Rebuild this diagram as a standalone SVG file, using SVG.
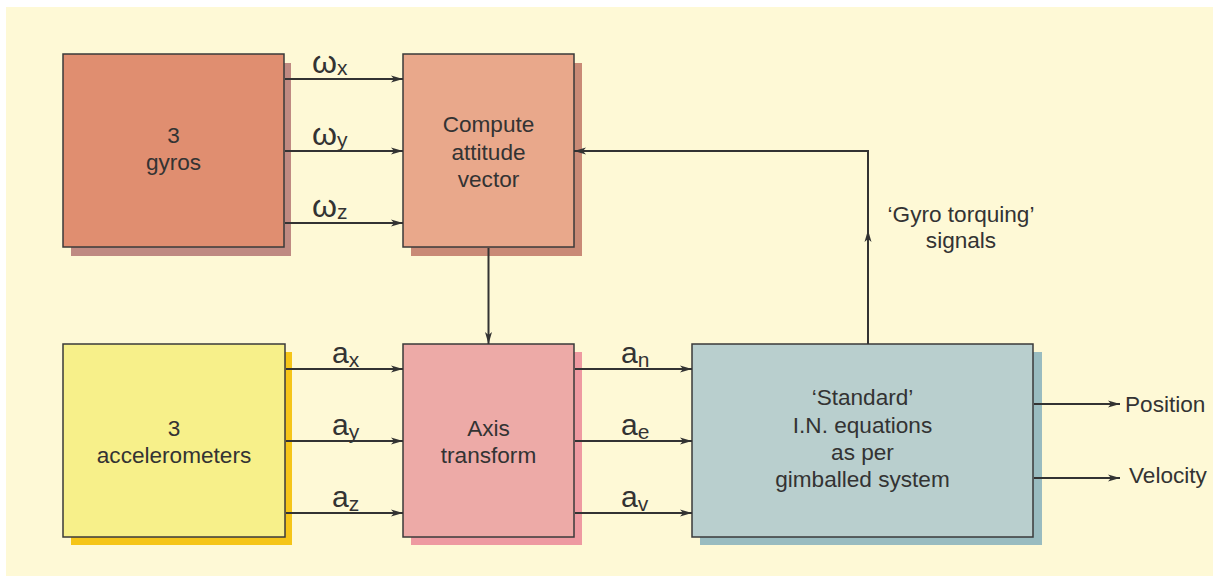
<svg xmlns="http://www.w3.org/2000/svg" width="1213" height="579" viewBox="0 0 1213 579">
<defs>
<style>
.box{stroke:#3a3a3a;stroke-width:1.5}
.t{font-family:"Liberation Sans",Arial,sans-serif;font-size:22.6px;fill:#333;text-anchor:middle}
.lbl{font-family:"Liberation Sans",Arial,sans-serif;font-size:30px;fill:#333}
.w{font-size:32px}
.sub{font-size:21px}
.c{stroke:#333;stroke-width:2;fill:none}
</style>
<marker id="ah" viewBox="0 0 12 8" refX="12" refY="4" markerWidth="12" markerHeight="8" markerUnits="userSpaceOnUse" orient="auto">
<path d="M0,0.5 L12,4 L0,7.5 L3,4 z" fill="#333"/>
</marker>
</defs>
<rect x="6" y="7" width="1207" height="569" fill="#FEF9D6"/>

<g id="gyros">
<rect x="71" y="63" width="220" height="193" fill="#BF8A82"/>
<rect class="box" x="63" y="54" width="221" height="193" fill="#E08E70"/>
<text class="t" x="173.5" y="143">3</text>
<text class="t" x="173.5" y="170">gyros</text>
</g>

<g id="compute">
<rect x="411" y="63" width="171" height="193" fill="#C98A76"/>
<rect class="box" x="403" y="54" width="171" height="193" fill="#E9A88B"/>
<text class="t" x="488.5" y="132">Compute</text>
<text class="t" x="488.5" y="159.5">attitude</text>
<text class="t" x="488.5" y="187">vector</text>
</g>

<g id="accel">
<rect x="71" y="352" width="221" height="193" fill="#F5C518"/>
<rect class="box" x="63" y="344" width="222" height="193" fill="#F7F08A"/>
<text class="t" x="174" y="436">3</text>
<text class="t" x="174" y="463">accelerometers</text>
</g>

<g id="axis">
<rect x="411" y="352" width="171" height="193" fill="#EE9AA1"/>
<rect class="box" x="403" y="344" width="171" height="193" fill="#EDAAA7"/>
<text class="t" x="488.5" y="436">Axis</text>
<text class="t" x="488.5" y="463">transform</text>
</g>

<g id="standard">
<rect x="700" y="352" width="342" height="193" fill="#99BCC0"/>
<rect class="box" x="692" y="344" width="341" height="193" fill="#B9CFCE"/>
<text class="t" x="862.5" y="405">‘Standard’</text>
<text class="t" x="862.5" y="432.5">I.N. equations</text>
<text class="t" x="862.5" y="460">as per</text>
<text class="t" x="862.5" y="487">gimballed system</text>
</g>

<g id="connectors">
<line class="c" x1="285" y1="79" x2="403" y2="79" marker-end="url(#ah)"/>
<line class="c" x1="285" y1="151" x2="403" y2="151" marker-end="url(#ah)"/>
<line class="c" x1="285" y1="223" x2="403" y2="223" marker-end="url(#ah)"/>
<line class="c" x1="286" y1="369" x2="403" y2="369" marker-end="url(#ah)"/>
<line class="c" x1="286" y1="441" x2="403" y2="441" marker-end="url(#ah)"/>
<line class="c" x1="286" y1="513" x2="403" y2="513" marker-end="url(#ah)"/>
<line class="c" x1="575" y1="369" x2="692" y2="369" marker-end="url(#ah)"/>
<line class="c" x1="575" y1="441" x2="692" y2="441" marker-end="url(#ah)"/>
<line class="c" x1="575" y1="513" x2="692" y2="513" marker-end="url(#ah)"/>
<line class="c" x1="488.5" y1="248" x2="488.5" y2="344" marker-end="url(#ah)"/>
<line class="c" x1="1034" y1="404" x2="1120" y2="404" marker-end="url(#ah)"/>
<line class="c" x1="1034" y1="478" x2="1120" y2="478" marker-end="url(#ah)"/>
<line class="c" x1="868" y1="344" x2="868" y2="230" marker-end="url(#ah)"/>
<polyline class="c" points="868,232 868,151 574,151" marker-end="url(#ah)"/>
</g>

<g id="labels">
<text class="lbl w" x="312" y="73">ω<tspan class="sub" dy="2">x</tspan></text>
<text class="lbl w" x="312" y="145">ω<tspan class="sub" dy="2">y</tspan></text>
<text class="lbl w" x="312" y="217">ω<tspan class="sub" dy="2">z</tspan></text>
<text class="lbl" x="332" y="363">a<tspan class="sub" dy="4">x</tspan></text>
<text class="lbl" x="332" y="435">a<tspan class="sub" dy="4">y</tspan></text>
<text class="lbl" x="332" y="507">a<tspan class="sub" dy="4">z</tspan></text>
<text class="lbl" x="621" y="363">a<tspan class="sub" dy="4">n</tspan></text>
<text class="lbl" x="621" y="435">a<tspan class="sub" dy="4">e</tspan></text>
<text class="lbl" x="621" y="507">a<tspan class="sub" dy="4">v</tspan></text>
<text class="t" x="961" y="222">‘Gyro torquing’</text>
<text class="t" x="961" y="248">signals</text>
<text class="t" x="1125" y="412" style="text-anchor:start">Position</text>
<text class="t" x="1129" y="483" style="text-anchor:start">Velocity</text>
</g>
</svg>
